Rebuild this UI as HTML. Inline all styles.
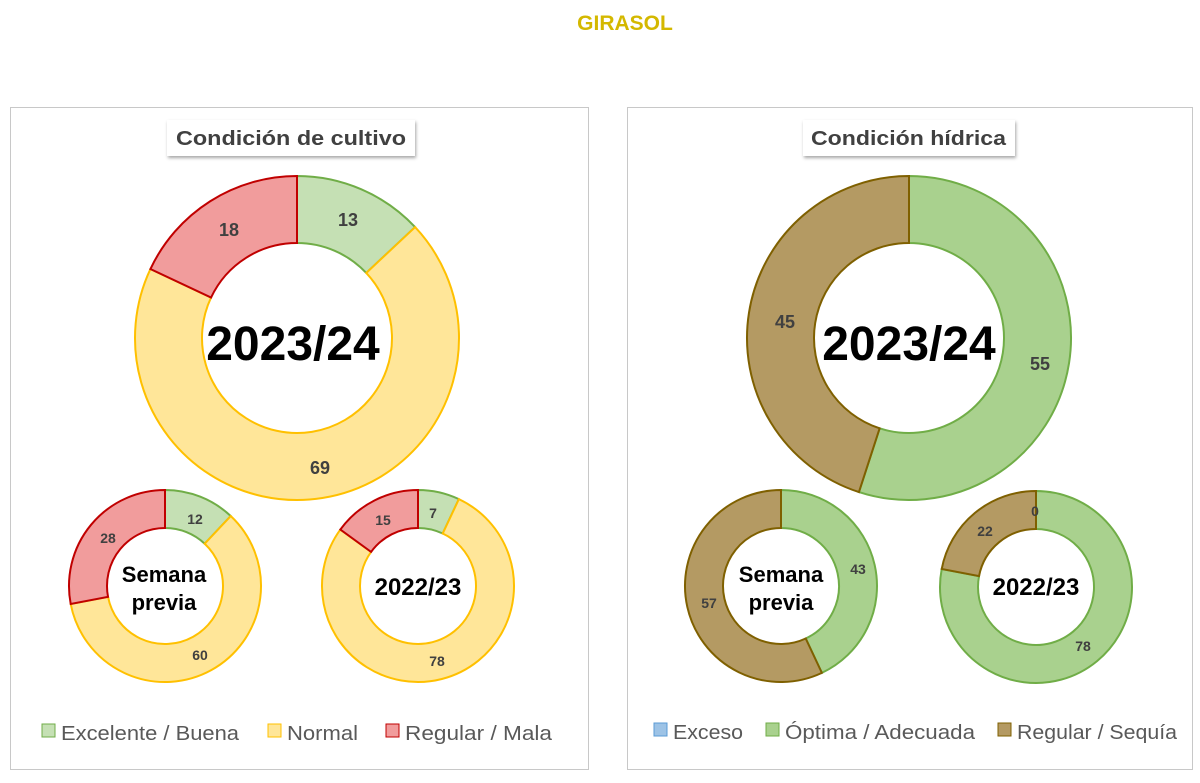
<!DOCTYPE html>
<html><head><meta charset="utf-8"><style>
body{margin:0;background:#fff;width:1200px;height:778px;overflow:hidden;font-family:"Liberation Sans",sans-serif}
</style></head><body>
<svg id="s" width="1200" height="778" xmlns="http://www.w3.org/2000/svg" font-family="'Liberation Sans',sans-serif">
<defs><filter id="sh" x="-10%" y="-30%" width="120%" height="170%"><feDropShadow dx="1" dy="2" stdDeviation="1.5" flood-color="#000" flood-opacity="0.35"/></filter></defs>
<text x="625" y="30" text-anchor="middle" font-size="21" font-weight="bold" fill="#d4b800">GIRASOL</text>
<rect x="10.5" y="107.5" width="578" height="662" fill="#fff" stroke="#c8c8c8"/>
<rect x="627.5" y="107.5" width="565" height="662" fill="#fff" stroke="#c8c8c8"/>
<rect x="167" y="120" width="248" height="36" fill="#fff" filter="url(#sh)"/>
<text x="176" y="145" font-size="20" font-weight="bold" fill="#404040" textLength="230" lengthAdjust="spacingAndGlyphs">Condición  de cultivo</text>
<rect x="803" y="120" width="212" height="36" fill="#fff" filter="url(#sh)"/>
<text x="811" y="145" font-size="20" font-weight="bold" fill="#404040" textLength="195" lengthAdjust="spacingAndGlyphs">Condición  hídrica</text>
<g id="arcs"></g>
<g font-weight="bold" fill="#404040" text-anchor="middle">
<text x="348" y="226" font-size="18">13</text>
<text x="229" y="236" font-size="18">18</text>
<text x="320" y="474" font-size="18">69</text>
<text x="195" y="524" font-size="14">12</text>
<text x="108" y="543" font-size="14">28</text>
<text x="200" y="660" font-size="14">60</text>
<text x="433" y="518" font-size="14">7</text>
<text x="383" y="525" font-size="14">15</text>
<text x="437" y="666" font-size="14">78</text>
<text x="785" y="328" font-size="18">45</text>
<text x="1040" y="370" font-size="18">55</text>
<text x="858" y="574" font-size="14">43</text>
<text x="709" y="608" font-size="14">57</text>
<text x="1035" y="516" font-size="14">0</text>
<text x="985" y="536" font-size="14">22</text>
<text x="1083" y="651" font-size="14">78</text>
</g>
<g font-weight="bold" fill="#000" text-anchor="middle">
<text x="293" y="360" font-size="48">2023/24</text>
<text x="909" y="360" font-size="48">2023/24</text>
<text x="164" y="582" font-size="22">Semana</text>
<text x="164" y="610" font-size="22">previa</text>
<text x="418" y="595" font-size="24">2022/23</text>
<text x="781" y="582" font-size="22">Semana</text>
<text x="781" y="610" font-size="22">previa</text>
<text x="1036" y="595" font-size="24">2022/23</text>
</g>
<g font-size="20" fill="#595959" lengthAdjust="spacingAndGlyphs">
<rect x="42" y="724" width="13" height="13" fill="#c5e0b4" stroke="#70ad47"/><text x="61" y="740" textLength="178" lengthAdjust="spacingAndGlyphs">Excelente / Buena</text>
<rect x="268" y="724" width="13" height="13" fill="#ffe699" stroke="#ffc000"/><text x="287" y="740" textLength="71" lengthAdjust="spacingAndGlyphs">Normal</text>
<rect x="386" y="724" width="13" height="13" fill="#f19c9c" stroke="#c00000"/><text x="405" y="740" textLength="147" lengthAdjust="spacingAndGlyphs">Regular / Mala</text>
<rect x="654" y="723" width="13" height="13" fill="#9dc3e6" stroke="#5b9bd5"/><text x="673" y="739" textLength="70" lengthAdjust="spacingAndGlyphs">Exceso</text>
<rect x="766" y="723" width="13" height="13" fill="#a9d18e" stroke="#70ad47"/><text x="785" y="739" textLength="190" lengthAdjust="spacingAndGlyphs">Óptima / Adecuada</text>
<rect x="998" y="723" width="13" height="13" fill="#b49a63" stroke="#7f6000"/><text x="1017" y="739" textLength="160" lengthAdjust="spacingAndGlyphs">Regular / Sequía</text>
</g>
</svg>
<script>
var G={f:"#c5e0b4",s:"#70ad47"},Y={f:"#ffe699",s:"#ffc000"},R={f:"#f19c9c",s:"#c00000"},
G2={f:"#a9d18e",s:"#70ad47"},B={f:"#b49a63",s:"#7f6000"};
var D=[[297,338,162,95,[[13,G],[69,Y],[18,R]]],[165,586,96,58,[[12,G],[60,Y],[28,R]]],[418,586,96,58,[[7,G],[78,Y],[15,R]]],
[909,338,162,95,[[55,G2],[45,B]]],[781,586,96,58,[[43,G2],[57,B]]],[1036,587,96,58,[[78,G2],[22,B]]]];
var h="";
function p(cx,cy,r,a){a=a*Math.PI/50;return[cx+r*Math.sin(a),cy-r*Math.cos(a)];}
D.forEach(function(d){var a=0;d[4].forEach(function(s){var b=a+s[0];var l=s[0]>50?1:0;
var o1=p(d[0],d[1],d[2],a),o2=p(d[0],d[1],d[2],b),i2=p(d[0],d[1],d[3],b),i1=p(d[0],d[1],d[3],a);
h+='<path d="M'+o1+'A'+d[2]+','+d[2]+' 0 '+l+' 1 '+o2+'L'+i2+'A'+d[3]+','+d[3]+' 0 '+l+' 0 '+i1+'Z" fill="'+s[1].f+'" stroke="'+s[1].s+'" stroke-width="2"/>';a=b;});});
document.getElementById("arcs").innerHTML=h;
</script>
</body></html>
